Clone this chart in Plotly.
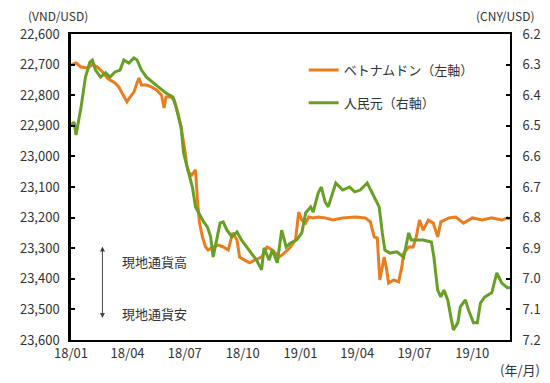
import plotly.graph_objects as go
import pandas as pd

start = pd.Timestamp("2018-01-01")

# ベトナムドン (VND/USD): day offsets from 2018-01-01 and values
vnd_days = [0, 8, 16, 27, 34, 42, 50, 58, 62, 70, 76, 84, 89, 94, 100, 105, 108, 112,
            120, 128, 136, 144, 148, 151, 159, 164, 170, 175, 178, 181, 184, 187, 192,
            198, 201, 204, 209, 214, 218, 226, 234, 242, 250, 257, 264, 268, 276, 284,
            292, 303, 312, 320, 331, 339, 349, 357, 362, 367, 373, 378, 385, 393, 404,
            417, 432, 452, 468, 476, 482, 487, 491, 498, 502, 505, 513, 521, 526, 529,
            537, 544, 549, 554, 560, 568, 576, 583, 588, 601, 612, 624, 638, 654, 669,
            685, 694, 698]
vnd_vals = [22701, 22695, 22708, 22711, 22700, 22708, 22724, 22744, 22750, 22760, 22773,
            22806, 22822, 22806, 22790, 22760, 22744, 22767, 22767, 22773, 22783, 22800,
            22842, 22806, 22806, 22816, 22858, 22904, 22937, 22979, 23028, 23051, 23061,
            23044, 23142, 23214, 23263, 23296, 23306, 23296, 23290, 23296, 23306, 23250,
            23273, 23329, 23339, 23348, 23339, 23329, 23296, 23306, 23329, 23316, 23296,
            23273, 23182, 23208, 23218, 23198, 23201, 23198, 23201, 23208, 23201, 23198,
            23201, 23214, 23263, 23267, 23404, 23329, 23371, 23414, 23404, 23410, 23361,
            23316, 23296, 23296, 23263, 23208, 23241, 23208, 23218, 23263, 23214, 23201,
            23198, 23218, 23201, 23208, 23201, 23208, 23201, 23205]

# 人民元 (CNY/USD)
cny_days = [0, 5, 8, 16, 23, 30, 34, 39, 47, 55, 62, 70, 78, 84, 92, 100, 105, 112, 120,
            131, 140, 151, 162, 167, 175, 179, 183, 187, 193, 198, 203, 211, 217, 222,
            226, 232, 237, 242, 248, 256, 264, 271, 279, 287, 295, 303, 307, 315, 320,
            328, 335, 342, 349, 359, 367, 373, 381, 385, 393, 398, 404, 409, 417, 421,
            432, 443, 451, 460, 471, 479, 484, 490, 495, 499, 507, 518, 529, 537, 541,
            549, 560, 573, 577, 583, 588, 593, 599, 604, 608, 615, 619, 627, 632, 640,
            646, 651, 658, 669, 677, 685, 694, 698]
cny_vals = [6.497, 6.488, 6.530, 6.439, 6.341, 6.292, 6.285, 6.318, 6.341, 6.327, 6.341,
            6.324, 6.318, 6.285, 6.295, 6.278, 6.285, 6.318, 6.341, 6.360, 6.373, 6.393,
            6.406, 6.439, 6.504, 6.589, 6.622, 6.654, 6.700, 6.765, 6.785, 6.814, 6.831,
            6.863, 6.929, 6.873, 6.818, 6.814, 6.841, 6.863, 6.847, 6.873, 6.896, 6.916,
            6.939, 6.971, 6.899, 6.939, 6.906, 6.948, 6.841, 6.896, 6.883, 6.873, 6.850,
            6.785, 6.765, 6.782, 6.720, 6.700, 6.749, 6.765, 6.710, 6.687, 6.710, 6.700,
            6.716, 6.710, 6.687, 6.720, 6.742, 6.765, 6.850, 6.906, 6.916, 6.912, 6.929,
            6.850, 6.873, 6.873, 6.873, 6.880, 6.929, 7.037, 7.059, 7.037, 7.069, 7.125,
            7.167, 7.144, 7.092, 7.069, 7.102, 7.144, 7.144, 7.079, 7.059, 7.046, 6.981,
            7.014, 7.030, 7.028]

x_tickvals = ["2018-01-01", "2018-04-01", "2018-07-01", "2018-10-01",
              "2019-01-01", "2019-04-01", "2019-07-01", "2019-10-01"]
x_ticktext = ["18/01", "18/04", "18/07", "18/10", "19/01", "19/04", "19/07", "19/10"]
y1_ticks = [22600, 22700, 22800, 22900, 23000, 23100, 23200, 23300, 23400, 23500, 23600]
y2_ticks = [6.2, 6.3, 6.4, 6.5, 6.6, 6.7, 6.8, 6.9, 7.0, 7.1, 7.2]

vnd_dates = [start + pd.Timedelta(days=d) for d in vnd_days]
cny_dates = [start + pd.Timedelta(days=d) for d in cny_days]

ORANGE = "#EB7D1E"
GREEN = "#67A024"
FONT = "Noto Sans CJK JP"
TXT = "#333333"

fig = go.Figure()
fig.add_trace(go.Scatter(x=vnd_dates, y=vnd_vals, mode="lines", name="ベトナムドン（左軸）",
                         line=dict(color=ORANGE, width=3), legend="legend", showlegend=True))
fig.add_trace(go.Scatter(x=cny_dates, y=cny_vals, mode="lines", name="人民元（右軸）",
                         line=dict(color=GREEN, width=3), yaxis="y2", legend="legend2",
                         showlegend=True))

axis_font = dict(family=FONT, size=13, color=TXT)

fig.update_layout(
    width=550, height=383,
    margin=dict(l=55, r=48, t=26, b=51),
    paper_bgcolor="white", plot_bgcolor="white",
    showlegend=True,
    font=dict(family=FONT, size=13, color=TXT),
    xaxis=dict(range=["2018-01-01", "2019-11-30"], tickvals=x_tickvals, ticktext=x_ticktext,
               showgrid=False, zeroline=False, showline=True, linecolor="black", linewidth=2,
               mirror=True, ticks="", tickfont=axis_font),
    yaxis=dict(range=[23600, 22600], tickvals=y1_ticks, tickformat=",d", showgrid=False,
               zeroline=False, showline=True, linecolor="black", linewidth=2.5,
               ticks="inside", ticklen=4, tickwidth=2, tickcolor="black", tickfont=axis_font,
               ticklabelstandoff=6),
    yaxis2=dict(range=[7.2, 6.2], tickvals=y2_ticks, tickformat=".1f", overlaying="y",
                side="right", showgrid=False, zeroline=False, showline=True,
                linecolor="black", linewidth=2, ticks="inside", ticklen=4, tickwidth=2,
                tickcolor="black", tickfont=axis_font, ticklabelstandoff=8),
    legend=dict(x=0.53, y=0.882, xanchor="left", yanchor="middle", bgcolor="rgba(0,0,0,0)",
                font=dict(family=FONT, size=13, color=TXT), itemwidth=30),
    legend2=dict(x=0.53, y=0.775, xanchor="left", yanchor="middle", bgcolor="rgba(0,0,0,0)",
                 font=dict(family=FONT, size=13, color=TXT), itemwidth=30),
)

fig.add_annotation(x=0.0716, y=0.072, ax=0, ay=-73, xref="paper", yref="paper",
                   axref="pixel", ayref="pixel", text="", showarrow=True, arrowhead=2,
                   arrowside="end+start", arrowsize=1, arrowwidth=1, arrowcolor="#444444")
fig.add_annotation(x=0.112, y=0.255, xref="paper", yref="paper", text="現地通貨高",
                   showarrow=False, xanchor="left", yanchor="middle",
                   font=dict(family=FONT, size=13, color=TXT))
fig.add_annotation(x=0.112, y=0.088, xref="paper", yref="paper", text="現地通貨安",
                   showarrow=False, xanchor="left", yanchor="middle",
                   font=dict(family=FONT, size=13, color=TXT))
fig.add_annotation(x=-0.03, y=1.06, xref="paper", yref="paper", text="(VND/USD)",
                   showarrow=False, xanchor="center", yanchor="middle",
                   font=dict(family=FONT, size=12, color=TXT))
fig.add_annotation(x=0.99, y=1.06, xref="paper", yref="paper", text="(CNY/USD)",
                   showarrow=False, xanchor="center", yanchor="middle",
                   font=dict(family=FONT, size=12, color=TXT))
fig.add_annotation(x=1.022, y=-0.098, xref="paper", yref="paper", text="(年/月)",
                   showarrow=False, xanchor="center", yanchor="middle",
                   font=dict(family=FONT, size=13, color=TXT))

fig.write_html("out.html")
